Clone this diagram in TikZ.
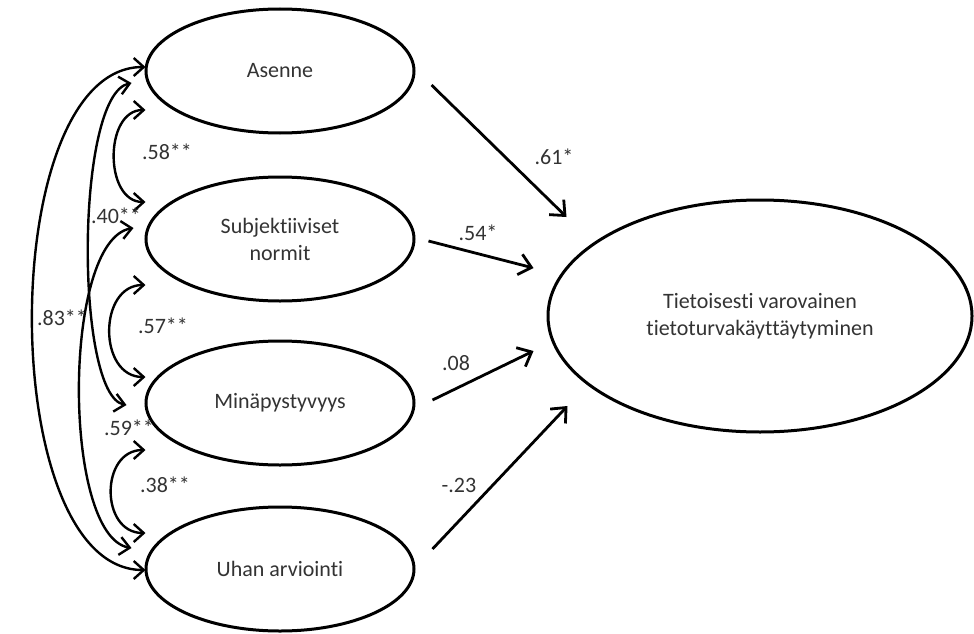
\documentclass[tikz,border=0pt]{standalone}
\usepackage{fontspec}
\setmainfont[Ligatures=NoCommon]{Carlito}
\usetikzlibrary{shapes.geometric,arrows.meta}
\definecolor{txtgray}{gray}{0.2}

\begin{document}
\begin{tikzpicture}[x=1pt,y=-1pt,
  latent/.style={ellipse, draw, line width=3pt, minimum width=268pt, minimum height=124pt,
    inner sep=0pt, align=center, text=txtgray, font=\fontsize{22}{27}\selectfont},
  effect/.style={line width=2.8pt, -{Straight Barb[length=12pt,width=21pt]}},
  cov/.style={line width=2.4pt, {Straight Barb[length=10pt,width=18pt]}-{Straight Barb[length=10pt,width=18pt]}},
  coef/.style={inner sep=0pt, text=txtgray, font=\fontsize{22}{25}\selectfont}]
\useasboundingbox (0,0) rectangle (974,634);

% latent variables
\node[latent] (asenne) at (280,71) {Asenne};
\node[latent] (subj) at (280,239) {Subjektiiviset\\normit};
\node[latent] (mina) at (280,403) {Minäpystyvyys};
\node[latent] (uhan) at (280,569) {Uhan arviointi};
\node[latent, minimum width=424pt, minimum height=232pt] (tieto) at (760,316)
  {Tietoisesti varovainen\\tietoturvakäyttäytyminen};

% paths
\draw[effect] ([shift={(16,14)}]asenne.east) -- ([shift={(20,-99)}]tieto.west);
\draw[effect] ([shift={(13,2)}]subj.east) -- ([shift={(-13,-48)}]tieto.west);
\draw[effect] ([shift={(17,-3)}]mina.east) -- ([shift={(-13,35)}]tieto.west);
\draw[effect] ([shift={(17,-20)}]uhan.east) -- ([shift={(21,90)}]tieto.west);

\node[coef] (c61) at (554,157) {.61*};
\node[coef] (c54) at (478,233) {.54*};
\node[coef] (c08) at (456,363) {.08};
\node[coef] (c23) at (459,485) {-.23};

% correlations
\draw[cov] ([shift={(1,39)}]asenne.west) .. controls (104,110) and (104,202) .. ([shift={(1,-37)}]subj.west);
\draw[cov] ([shift={(1,46)}]subj.west) .. controls (98,285) and (98,377) .. ([shift={(1,-26)}]mina.west);
\draw[cov] ([shift={(1,47)}]mina.west) .. controls (100,450) and (100,533) .. ([shift={(1,-36)}]uhan.west);
\draw[cov] ([shift={(-13,12)}]asenne.west) .. controls (75,95) and (75,395) .. ([shift={(-18,2)}]mina.west);
\draw[cov] ([shift={(-11,-11)}]subj.west) .. controls (62,240) and (62,536) .. ([shift={(-13,-21)}]uhan.west);
\draw[cov] ([shift={(1,-4)}]asenne.west) .. controls (-5,67) and (-5,570) .. ([shift={(1,1)}]uhan.west);

\node[coef] (c58) at (167,152) {.58**};
\node[coef] (c57) at (163,326) {.57**};
\node[coef] (c38) at (165,485) {.38**};
\node[coef] (c40) at (116,216) {.40**};
\node[coef] (c59) at (129,428) {.59**};
\node[coef] (c83) at (62,318) {.83**};

\end{tikzpicture}
\end{document}
